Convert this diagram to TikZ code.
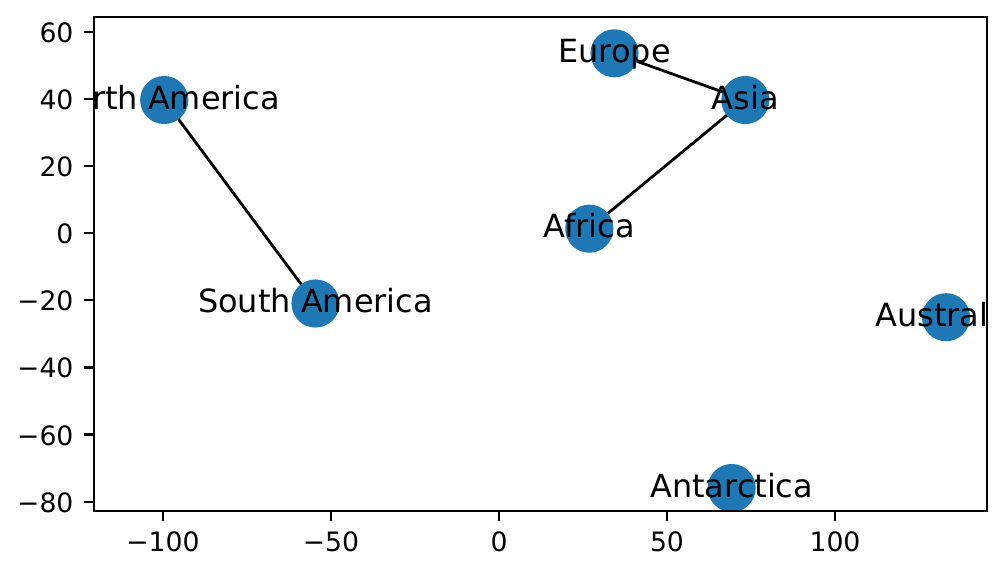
\documentclass[tikz,border=0pt]{standalone}
\usepackage{fontspec}
\setmainfont{DejaVu Sans}
\begin{document}
\begin{tikzpicture}[x=0.36pt,y=-0.36pt]
\definecolor{nxblue}{HTML}{1F78B4}
\tikzset{
  vtx/.style={circle, fill=nxblue, minimum size=17.32pt, inner sep=0pt, draw=none},
  lbl/.style={anchor=base, inner sep=0pt, font=\fontsize{11.5}{14}\selectfont},
  edge/.style={line width=1pt, black},
  spine/.style={line width=0.8pt, black, line join=miter},
  tick/.style={line width=0.8pt, black},
  xlab/.style={anchor=base, inner sep=0pt, font=\fontsize{9.6}{12}\selectfont},
  ylab/.style={anchor=base east, inner sep=0pt, font=\fontsize{9.6}{12}\selectfont},
}
\useasboundingbox (0,0) rectangle (1005,575);
% node positions
\coordinate (NA) at (164.2,100);
\coordinate (SA) at (315.5,303.5);
\coordinate (EU) at (614.5,53.3);
\coordinate (AS) at (745.3,100);
\coordinate (AF) at (589.3,228.7);
\coordinate (AU) at (946,317.2);
\coordinate (AN) at (731.7,488);
\begin{scope}
  \clip (93.7,17.3) rectangle (986.7,511);
  \draw[edge] (NA) -- (SA);
  \draw[edge] (EU) -- (AS);
  \draw[edge] (AS) -- (AF);
  \foreach \n in {NA,SA,EU,AS,AF,AU,AN} {\node[vtx] (v\n) at (\n) {};}
\end{scope}
% axes
\draw[spine] (93.7,17.3) rectangle (986.7,511);
\foreach \x/\t in {163/−100,331/−50,499/0,667/50,835/100} {
  \draw[tick] (\x,511) -- (\x,520.7);
  \node[xlab] at (\x,551) {\t};
}
\foreach \y/\t in {31.7/60,98.8/40,166/20,233.1/0,300.2/−20,367.4/−40,434.5/−60,501.7/−80} {
  \draw[tick] (93.7,\y) -- (84,\y);
  \node[ylab] at (74,\y+10.5) {\t};
}
\begin{scope}
  \clip (93.7,17.3) rectangle (986.7,511);
  \node[lbl] (tNA) at ([yshift=-3.3pt]NA) {North America};
  \node[lbl] (tSA) at ([yshift=-3.3pt]SA) {South America};
  \node[lbl] (tEU) at ([yshift=-3.3pt]EU) {Europe};
  \node[lbl] (tAS) at ([yshift=-3.3pt]AS) {Asia};
  \node[lbl] (tAF) at ([yshift=-3.3pt]AF) {Africa};
  \node[lbl] (tAU) at ([yshift=-3.3pt]AU) {Australia};
  \node[lbl] (tAN) at ([yshift=-3.3pt]AN) {Antarctica};
\end{scope}
\end{tikzpicture}
\end{document}
